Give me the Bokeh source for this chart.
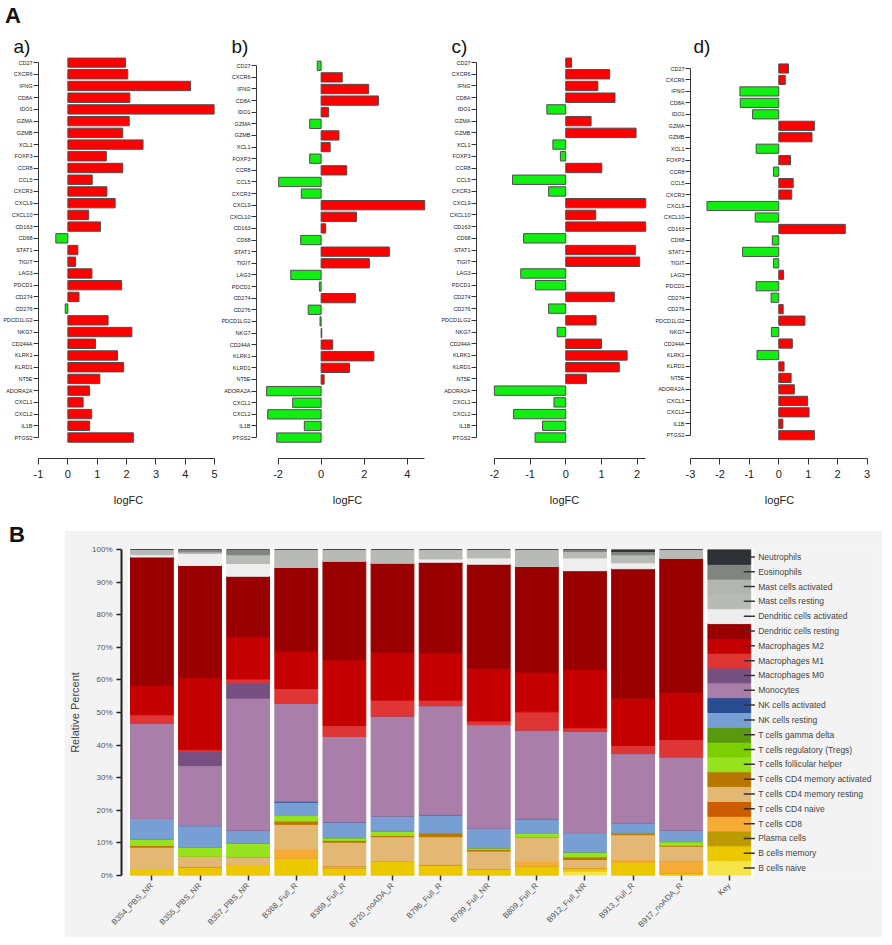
import math
from bokeh.plotting import figure
from bokeh.layouts import column, row
from bokeh.models import Range1d, FixedTicker, Div, ColumnDataSource, PrintfTickFormatter, BoxAnnotation
from bokeh.embed import file_html
from bokeh.resources import INLINE
from bokeh.core.properties import value

FONT = "Liberation Sans"

# ---------------- Panel A data ----------------
genes = ["CD27", "CXCR6", "IFNG", "CD8A", "IDO1", "GZMA", "GZMB", "XCL1", "FOXP3", "CCR8",
         "CCL5", "CXCR3", "CXCL9", "CXCL10", "CD163", "CD68", "STAT1", "TIGIT", "LAG3", "PDCD1",
         "CD274", "CD276", "PDCD1LG2", "NKG7", "CD244A", "KLRK1", "KLRD1", "NT5E", "ADORA2A",
         "CXCL1", "CXCL2", "IL1B", "PTGS2"]

logfc_a = [1.96, 2.04, 4.18, 2.11, 4.98, 2.09, 1.87, 2.56, 1.31, 1.87, 0.83, 1.33, 1.61, 0.71, 1.11,
           -0.41, 0.34, 0.26, 0.82, 1.83, 0.38, -0.09, 1.37, 2.18, 0.94, 1.69, 1.90, 1.09, 0.74,
           0.52, 0.81, 0.74, 2.23]
logfc_b = [-0.18, 0.98, 2.21, 2.66, 0.35, -0.53, 0.83, 0.42, -0.53, 1.19, -1.97, -0.92, 4.81, 1.64,
           0.21, -0.95, 3.17, 2.24, -1.41, -0.08, 1.59, -0.60, -0.05, 0.03, 0.54, 2.45, 1.32, 0.14,
           -2.53, -1.32, -2.48, -0.78, -2.06]
logfc_c = [0.16, 1.23, 0.90, 1.38, -0.53, 0.71, 1.97, -0.36, -0.15, 1.01, -1.49, -0.48, 2.24, 0.84,
           2.24, -1.18, 1.95, 2.07, -1.26, -0.85, 1.36, -0.48, 0.85, -0.24, 1.00, 1.72, 1.50, 0.58,
           -2.00, -0.33, -1.46, -0.65, -0.86]
logfc_d = [0.33, 0.22, -1.32, -1.31, -0.89, 1.21, 1.13, -0.77, 0.40, -0.18, 0.49, 0.44, -2.44, -0.80,
           2.26, -0.22, -1.23, -0.18, 0.16, -0.77, -0.26, 0.15, 0.89, -0.25, 0.46, -0.74, 0.18, 0.42,
           0.53, 0.98, 1.03, 0.14, 1.21]

ticks_a = [-1, 0, 1, 2, 3, 4, 5]
ticks_b = [-2, 0, 2, 4]
ticks_c = [-2, -1, 0, 1, 2]
ticks_d = [-3, -2, -1, 0, 1, 2, 3]

# ---------------- Panel B data ----------------
samples = ["B354_PBS_NR", "B355_PBS_NR", "B357_PBS_NR", "B368_Full_R", "B369_Full_R",
           "B720_noADA_R", "B796_Full_R", "B799_Full_NR", "B809_Full_R", "B912_Full_NR",
           "B913_Full_R", "B917_noADA_R"]
key_name = "Key"

# bottom-to-top stacking order
cell_types = ["B cells naive", "B cells memory", "Plasma cells", "T cells CD8", "T cells CD4 naive",
              "T cells CD4 memory resting", "T cells CD4 memory activated",
              "T cells follicular helper", "T cells regulatory (Tregs)", "T cells gamma delta",
              "NK cells resting", "NK cells activated", "Monocytes", "Macrophages M0",
              "Macrophages M1", "Macrophages M2", "Dendritic cells resting",
              "Dendritic cells activated", "Mast cells resting", "Mast cells activated",
              "Eosinophils", "Neutrophils"]
cell_colors = ["#f5e44a", "#ebc800", "#bb9b00", "#f5ab34", "#cc5c00",
               "#e3b874", "#b87800", "#97e21f", "#7ccf00", "#5a980f",
               "#789fd3", "#2a4d91", "#a97ea8", "#765080",
               "#e03535", "#c40000", "#9b0000",
               "#eeeeee", "#b8bbb5", "#b3b6b0", "#818481", "#2e3236"]

b_naive = [0, 0, 0, 0, 0, 0, 0, 0, 0, 1.3, 0, 0]
b_memory = [1.85, 2.7, 3.4, 5.3, 2.3, 4.4, 3.3, 2.1, 2.9, 1.1, 4.1, 0.8]
plasma = [0, 0, 0, 0, 0, 0, 0, 0, 0, 0, 0, 0]
t_cd8 = [0, 0, 0, 2.7, 0.6, 0, 0, 0, 1.4, 0, 0.8, 3.6]
t_cd4_naive = [0, 0, 0, 0, 0, 0, 0, 0, 0, 0, 0, 0]
t_cd4_mem_rest = [6.85, 3.2, 2.3, 7.7, 7.3, 7.5, 8.6, 5.4, 7.5, 2.5, 7.6, 4.6]
t_cd4_mem_act = [0.5, 0, 0, 1.0, 0.6, 0.4, 1.2, 0.5, 0, 0.8, 0.6, 0.3]
t_fh = [2.0, 2.8, 4.3, 1.7, 0.8, 1.4, 0, 0.5, 1.1, 1.5, 0, 1.1]
t_reg = [0, 0, 0, 0, 0, 0, 0, 0, 0, 0, 0, 0]
t_gd = [0, 0, 0, 0, 0, 0, 0, 0, 0, 0, 0, 0]
nk_rest = [6.3, 6.6, 3.9, 4.1, 4.8, 4.5, 5.5, 6.0, 4.5, 5.7, 3.1, 3.5]
nk_act = [0, 0, 0, 0.3, 0, 0, 0, 0, 0, 0, 0, 0]
monocytes = [29.3, 18.4, 40.5, 30.0, 26.3, 30.7, 33.5, 31.8, 27.2, 31.3, 21.2, 22.5]
mac_m0 = [0, 4.3, 4.7, 0, 0, 0, 0, 0, 0, 0, 0, 0]
mac_m1 = [2.5, 0.6, 1.2, 4.5, 3.3, 4.9, 1.7, 1.1, 5.6, 1.1, 2.5, 5.3]
mac_m2 = [9.0, 22.1, 12.9, 11.6, 20.1, 14.7, 14.5, 16.2, 12.2, 17.9, 14.5, 14.5]
dc_rest = [39.4, 34.4, 18.6, 25.6, 30.4, 27.4, 27.8, 31.9, 32.5, 30.3, 39.7, 41.2]
dc_act = [0.7, 3.7, 3.9, 0, 0, 0, 1.0, 1.9, 0, 3.9, 1.8, 0]
mast_rest = [1.6, 0.5, 2.7, 5.5, 3.5, 4.1, 2.9, 2.6, 5.1, 2.0, 2.5, 2.6]
mast_act = [0, 0, 0, 0, 0, 0, 0, 0, 0, 0, 0, 0]
eosinophils = [0, 0.7, 1.6, 0, 0, 0, 0, 0, 0, 0.6, 1.0, 0]
neutrophils = [0, 0, 0, 0, 0, 0, 0, 0, 0, 0, 0.6, 0]

cell_values = [b_naive, b_memory, plasma, t_cd8, t_cd4_naive, t_cd4_mem_rest, t_cd4_mem_act,
               t_fh, t_reg, t_gd, nk_rest, nk_act, monocytes, mac_m0, mac_m1, mac_m2, dc_rest,
               dc_act, mast_rest, mast_act, eosinophils, neutrophils]


# ---------------- Panel A figures ----------------
def make_panel(title, vals, width, xr, ticks, bounds, yr, title_offset, border_right=0):
    p = figure(width=width, height=498, x_range=Range1d(*xr), y_range=Range1d(*yr),
               output_backend="svg", toolbar_location=None, title=title,
               min_border_left=34, min_border_right=border_right,
               min_border_top=24, min_border_bottom=72)
    p.outline_line_color = None
    p.grid.visible = False
    p.background_fill_color = "white"
    p.border_fill_color = "white"
    idx = list(range(len(genes)))
    colors = ["#ff0000" if v > 0 else "#11ee11" for v in vals]
    p.hbar(y=idx, left=0, right=vals, height=0.8, fill_color=colors,
           line_color="#4d4d4d", line_width=1)

    p.title.text_font = FONT
    p.title.text_font_size = "19px"
    p.title.text_font_style = "normal"
    p.title.text_color = "#111111"
    p.title.align = "left"
    p.title.offset = title_offset
    p.title.standoff = 2

    xa = p.xaxis[0]
    xa.ticker = FixedTicker(ticks=ticks)
    xa.major_label_overrides = {t: str(t) for t in ticks}
    xa.bounds = bounds
    xa.minor_tick_line_color = None
    xa.major_tick_in = 0
    xa.major_tick_out = 6
    xa.major_label_standoff = 5
    xa.major_label_text_font = FONT
    xa.major_label_text_font_size = "11px"
    xa.major_label_text_color = "#222222"
    xa.axis_line_color = "#333333"
    xa.major_tick_line_color = "#333333"
    xa.axis_label = "logFC"
    xa.axis_label_text_font = FONT
    xa.axis_label_text_font_size = "11px"
    xa.axis_label_text_font_style = "normal"
    xa.axis_label_text_color = "#222222"
    xa.axis_label_standoff = 13

    ya = p.yaxis[0]
    ya.ticker = FixedTicker(ticks=idx)
    ya.major_label_overrides = {i: g for i, g in enumerate(genes)}
    ya.bounds = (0, len(genes) - 1)
    ya.minor_tick_line_color = None
    ya.major_tick_in = 0
    ya.major_tick_out = 5
    ya.major_label_standoff = 1
    ya.major_label_text_font = FONT
    ya.major_label_text_font_size = "5.5px"
    ya.major_label_text_color = "#222222"
    ya.axis_line_color = "#333333"
    ya.major_tick_line_color = "#333333"
    return p


pa = make_panel("a)", logfc_a, 218, (-1.0, 5.13), ticks_a, (-1, 5), (33.79, -0.43), -25)
pb = make_panel("b)", logfc_b, 220, (-3.0, 5.45), ticks_b, (-2, 4.8), (33.8, -0.71), -25)
pc = make_panel("c)", logfc_c, 214, (-2.5, 2.43), ticks_c, (-2, 2.22), (33.79, -0.43), -25)
pd_ = make_panel("d)", logfc_d, 224, (-3.0, 3.05), ticks_d, (-3, 3), (34.03, -0.96), 3,
                 border_right=8)

# ---------------- Panel B figure ----------------
cats = samples + [key_name]
key_share = 100.0 / len(cell_types)
src = {"x": list(range(len(cats)))}
for name, vals in zip(cell_types, cell_values):
    src[name] = list(vals) + [key_share]
source = ColumnDataSource(src)

GREY = "#f3f3f3"
pB = figure(width=818, height=407, x_range=Range1d(-0.632, 15.10), y_range=Range1d(0, 100),
            output_backend="svg", toolbar_location=None,
            min_border_left=57, min_border_right=4, min_border_top=19, min_border_bottom=62)
pB.outline_line_color = None
pB.grid.visible = False
pB.background_fill_color = GREY
pB.border_fill_color = GREY
pB.add_layout(BoxAnnotation(left=-0.5, right=len(cats) - 0.5, bottom=0, top=100,
                            fill_color="white", fill_alpha=1.0, line_color=None, level="underlay"))
pB.vbar_stack(cell_types, x="x", width=0.89, color=cell_colors, source=source)

# key labels
centers = [(k + 0.5) * key_share for k in range(len(cell_types))]
key_x = len(cats) - 1
pB.segment(x0=[key_x + 0.30] * len(centers), x1=[key_x + 0.53] * len(centers),
           y0=centers, y1=centers, line_color="#333333", line_width=1.5)
pB.text(x=[key_x + 0.6] * len(centers), y=centers, text=cell_types,
        text_font=value(FONT), text_font_size="8.5px", text_baseline="middle",
        text_align="left", text_color="#444444")

xb = pB.xaxis[0]
xb.ticker = FixedTicker(ticks=list(range(len(cats))))
xb.major_label_overrides = {i: c for i, c in enumerate(cats)}
xb.major_label_orientation = math.pi / 4
xb.axis_line_color = None
xb.minor_tick_line_color = None
xb.major_tick_in = 0
xb.major_tick_out = 5
xb.major_tick_line_color = "#333333"
xb.major_tick_line_width = 1.5
xb.major_label_text_font = FONT
xb.major_label_text_font_size = "8px"
xb.major_label_text_color = "#555555"
xb.major_label_standoff = 4

yb = pB.yaxis[0]
yb.ticker = FixedTicker(ticks=list(range(0, 101, 10)))
yb.formatter = PrintfTickFormatter(format="%d%%")
yb.bounds = (0, 100)
yb.minor_tick_line_color = None
yb.major_tick_in = 0
yb.major_tick_out = 5
yb.axis_line_color = "#222222"
yb.axis_line_width = 2
yb.major_tick_line_color = "#222222"
yb.major_tick_line_width = 1.5
yb.major_label_text_font = FONT
yb.major_label_text_font_size = "8px"
yb.major_label_text_color = "#555555"
yb.major_label_standoff = 4
yb.axis_label = "Relative Percent"
yb.axis_label_text_font = FONT
yb.axis_label_text_font_size = "11px"
yb.axis_label_text_font_style = "normal"
yb.axis_label_text_color = "#444444"
yb.axis_label_standoff = 8

# ---------------- layout ----------------
label_style = {"font-size": "22px", "font-weight": "bold", "font-family": FONT,
               "line-height": "22px", "color": "#111111"}
divA = Div(text="A", width=876, height=22, styles=label_style)
divB = Div(text="B", width=54, height=407,
           styles=dict(label_style, **{"padding-left": "4px", "margin-top": "-6px"}))

layout = column(divA, row(pa, pb, pc, pd_), row(divB, pB))

with open("out.html", "w") as f:
    f.write(file_html(layout, INLINE))
